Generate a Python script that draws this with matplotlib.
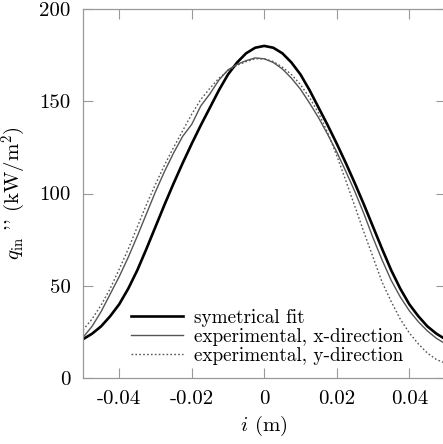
import matplotlib
matplotlib.use("Agg")
import matplotlib.pyplot as plt
import numpy as np

plt.rcParams['font.family'] = 'serif'
plt.rcParams['font.serif'] = ['cmr10', 'DejaVu Serif']
plt.rcParams['mathtext.fontset'] = 'cm'
plt.rcParams['axes.unicode_minus'] = False
plt.rcParams['axes.formatter.use_mathtext'] = True

x_pos = [-0.05, -0.0475, -0.045, -0.0425, -0.04, -0.0375, -0.035, -0.0325, -0.03, -0.0275,
         -0.025, -0.0225, -0.02, -0.0175, -0.015, -0.0125, -0.01, -0.0075, -0.005, -0.0025,
         0.0, 0.0025, 0.005, 0.0075, 0.01, 0.0125, 0.015, 0.0175, 0.02, 0.0225,
         0.025, 0.0275, 0.03, 0.0325, 0.035, 0.0375, 0.04, 0.0425, 0.045, 0.0475, 0.05]

fit_vals = [21, 24, 28, 33.5, 40, 48.5, 58.5, 70, 82, 94,
            105.5, 116.5, 127, 137, 146.5, 156, 164.5, 171, 176, 179,
            180, 179, 176, 171, 164.5, 156, 146.5, 137, 127, 116.5,
            105.5, 94, 82, 70, 58.5, 48.5, 40, 33.5, 28, 24, 21]

xdir_vals = [22, 28, 36, 45.5, 55, 65.5, 77, 89, 101, 112,
             122, 131, 137.5, 147.5, 154, 161.5, 167, 170, 172, 173.5,
             173, 171, 167.5, 162.5, 156.5, 149, 141, 132, 122.5, 112,
             101, 89, 76, 64, 53, 44, 36.5, 30.5, 25.5, 21.5, 18.5]

ydir_vals = [26, 32, 39.5, 48.5, 59, 70, 82, 94, 105, 115.5,
             125, 134, 143, 151, 157, 162.5, 166.5, 169.5, 171.5, 173,
             173, 171.5, 168.5, 164.5, 159, 152, 143.5, 133, 120.5, 107,
             93, 79, 65.5, 52, 41.5, 32, 24.5, 18.5, 13.5, 10, 8]

labels = ["symetrical fit", "experimental, x-direction", "experimental, y-direction"]
xticks = [-0.04, -0.02, 0, 0.02, 0.04]
xtick_labels = ["-0.04", "-0.02", "0", "0.02", "0.04"]
yticks = [0, 50, 100, 150, 200]
ytick_labels = ["0", "50", "100", "150", "200"]

fig = plt.figure(figsize=(4.43, 4.44), dpi=100)
ax = fig.add_axes([83/443, 1-378/444, (445.5-83)/443, (378-9)/444])

ax.plot(x_pos, fit_vals, color='black', lw=1.9, label=labels[0])
ax.plot(x_pos, xdir_vals, color='#555555', lw=1.0, label=labels[1])
ax.plot(x_pos, ydir_vals, color='#555555', lw=1.0, ls=(0, (1.2, 1.6)), label=labels[2])

ax.set_xlim(-0.05, 0.05)
ax.set_ylim(0, 200)
ax.set_xticks(xticks)
ax.set_xticklabels(xtick_labels)
ax.set_yticks(yticks)
ax.set_yticklabels(ytick_labels)
ax.tick_params(direction='in', length=7, width=0.8, color='#999999',
               top=True, right=True, labelsize=15, pad=9)
for s in ax.spines.values():
    s.set_color('#999999')
    s.set_linewidth(0.9)

ax.set_xlabel(r"$i$ (m)", fontsize=15, labelpad=4)
ax.set_ylabel(r"$q_{\mathrm{in}}$ '' (kW/m$^2$)", fontsize=15, labelpad=8)

leg = ax.legend(loc='lower left', bbox_to_anchor=(0.095, 0.0), frameon=False,
                fontsize=13.8, handlelength=2.7, handletextpad=0.6,
                labelspacing=0.05, borderaxespad=0.3)

fig.savefig("out.png", dpi=100)
